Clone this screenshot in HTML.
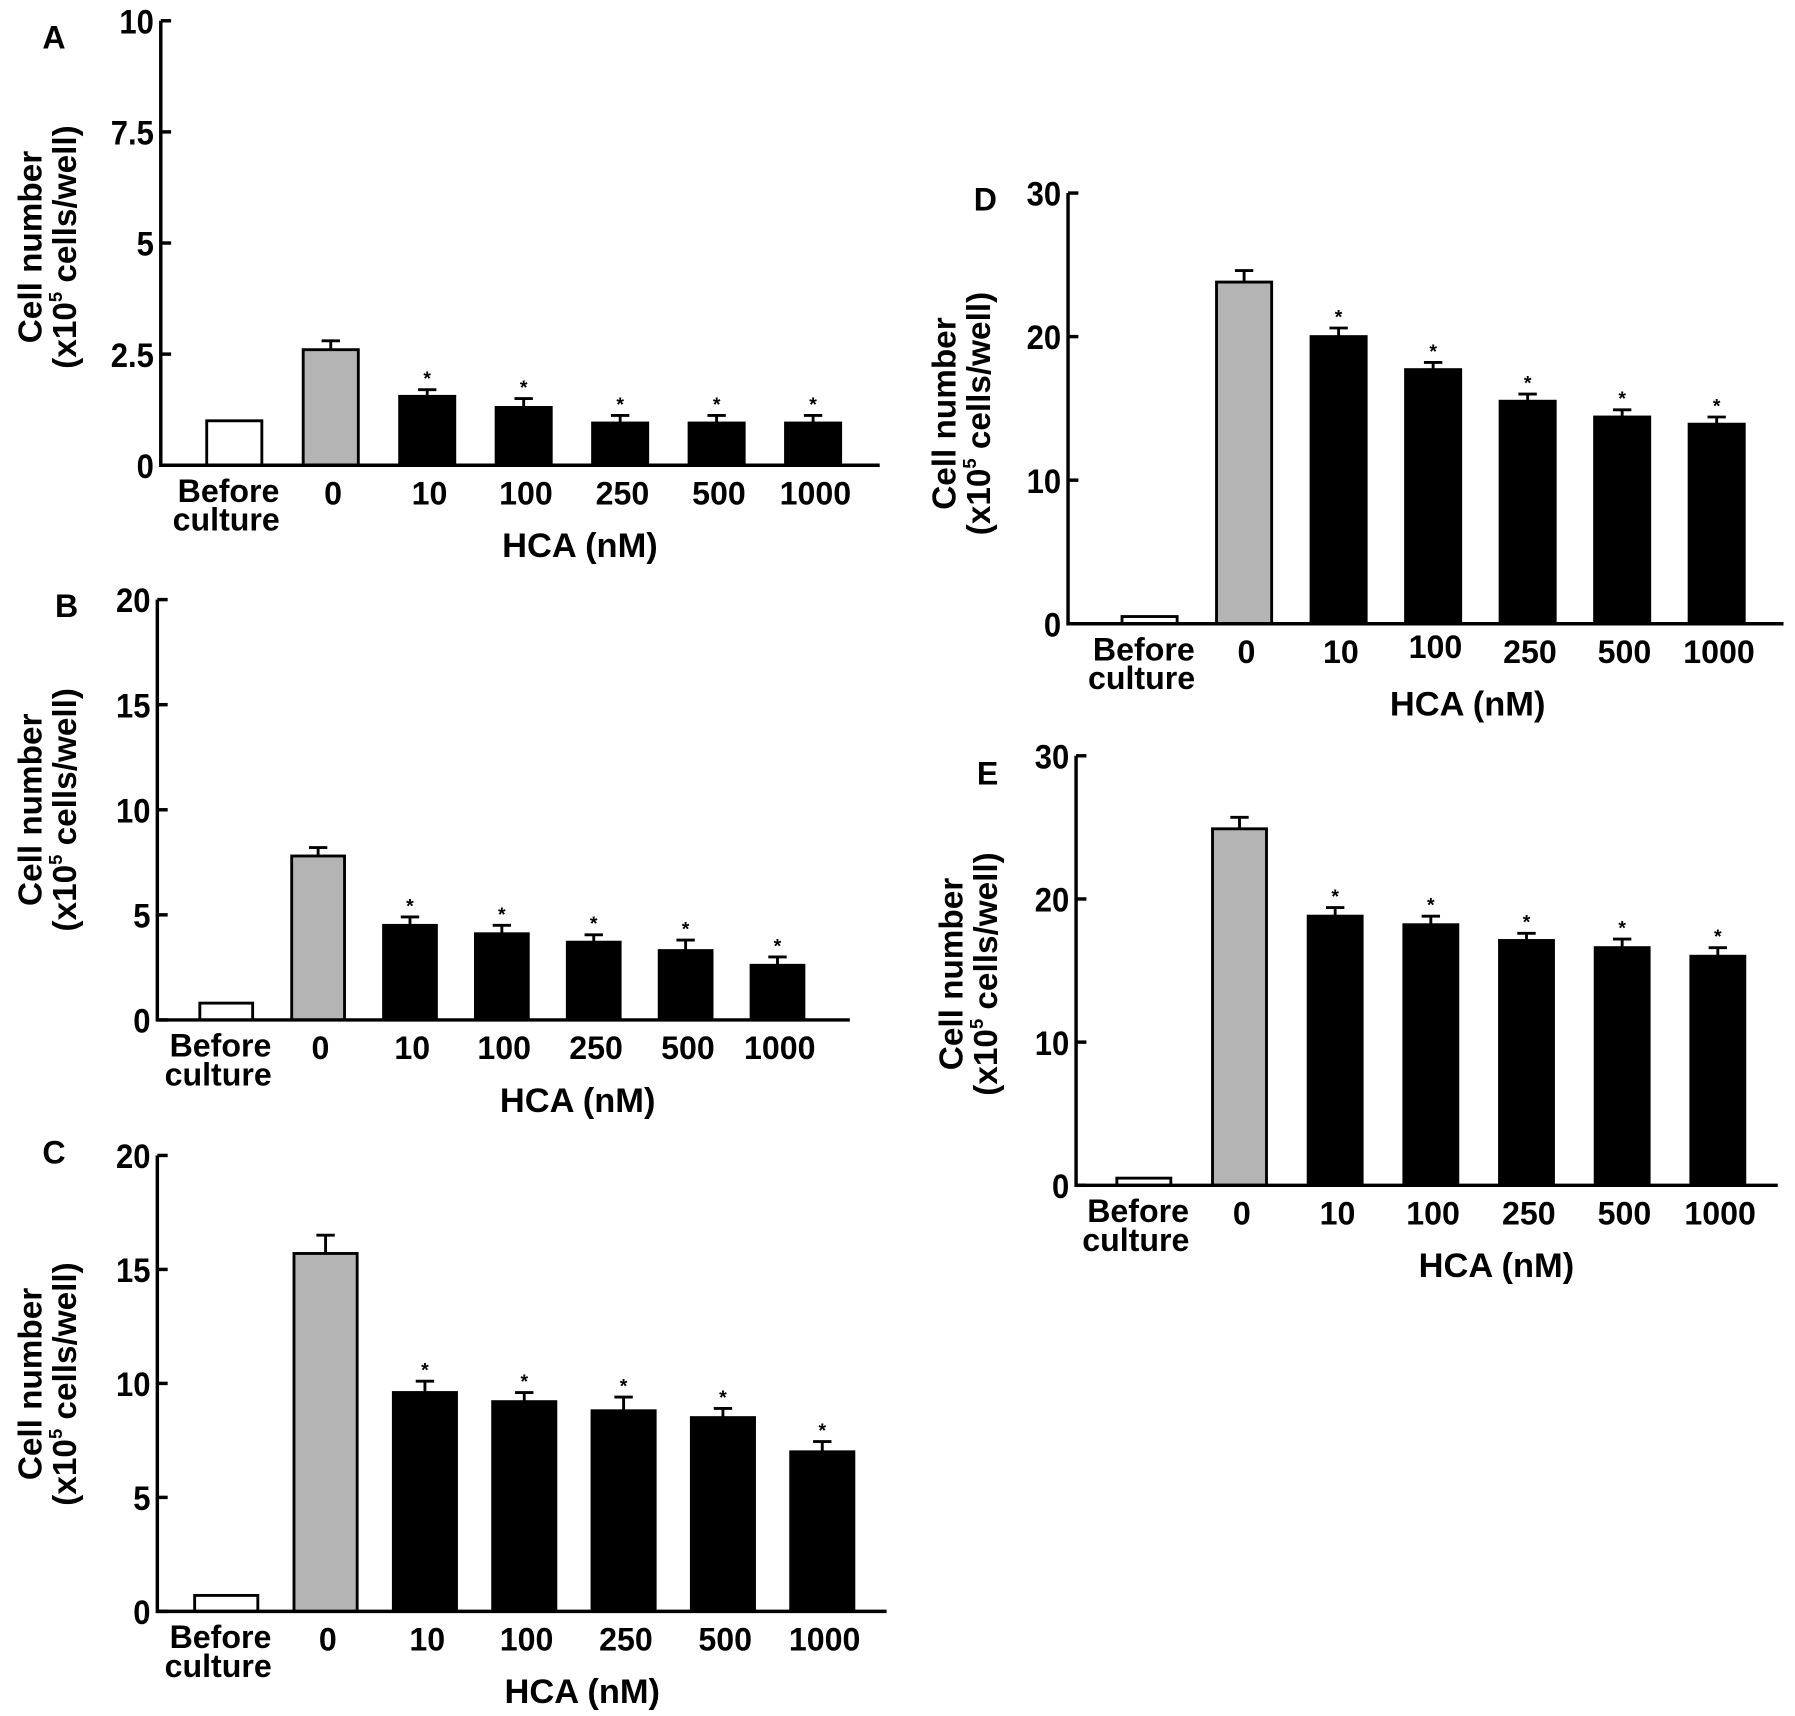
<!DOCTYPE html>
<html><head><meta charset="utf-8"><style>
html,body{margin:0;padding:0;background:#fff;}
svg{display:block;}
text{font-family:"Liberation Sans",Arial,sans-serif;font-weight:bold;fill:#000;}
</style></head><body>
<svg id="fig" width="1795" height="1716" viewBox="0 0 1563 1494" xmlns="http://www.w3.org/2000/svg"></svg>
<script>
const categories = ["Before culture","0","10","100","250","500","1000"];
const valuesA = [1.0, 2.6, 1.55, 1.3, 0.95, 0.95, 0.95];
const errorsA = [0, 0.2, 0.15, 0.2, 0.17, 0.17, 0.17];
const ticksA = [0, 2.5, 5, 7.5, 10];
const valuesB = [0.8, 7.8, 4.5, 4.1, 3.7, 3.3, 2.6];
const errorsB = [0, 0.4, 0.4, 0.4, 0.35, 0.5, 0.4];
const ticksB = [0, 5, 10, 15, 20];
const valuesC = [0.7, 15.7, 9.6, 9.2, 8.8, 8.5, 7.0];
const errorsC = [0, 0.8, 0.5, 0.4, 0.6, 0.4, 0.45];
const ticksC = [0, 5, 10, 15, 20];
const valuesD = [0.5, 23.8, 20.0, 17.7, 15.5, 14.4, 13.9];
const errorsD = [0, 0.8, 0.6, 0.5, 0.5, 0.5, 0.5];
const ticksD = [0, 10, 20, 30];
const valuesE = [0.5, 24.9, 18.8, 18.2, 17.1, 16.6, 16.0];
const errorsE = [0, 0.8, 0.6, 0.6, 0.5, 0.6, 0.6];
const ticksE = [0, 10, 20, 30];
const significant = [false, false, true, true, true, true, true];

const NS = "http://www.w3.org/2000/svg";
const svg = document.getElementById("fig");
function mk(tag, attrs, parent, txt){
  const e = document.createElementNS(NS, tag);
  for (const k in attrs) e.setAttribute(k, attrs[k]);
  if (txt !== undefined) e.textContent = txt;
  parent.appendChild(e);
  return e;
}

function panel(p){
  const g = mk("g", {}, svg);
  
  
  const yMax = p.ticks[p.ticks.length-1];
  const y = v => p.y0 - (v / yMax) * (p.y0 - p.yTop);
  const x = i => p.c0 + i * p.step;

  const lab = mk("text", {x:p.lx, y:p.ly, "font-size":28, "text-anchor":"middle"}, g, p.id);
  
  

  p.values.forEach((v, i) => {
    const fill = i === 0 ? "#fff" : (i === 1 ? "#b4b4b4" : "#000");
    const r = mk("rect", {x:x(i)-p.bw/2, y:y(v), width:p.bw, height:p.y0-y(v), fill:fill, stroke:"#000", "stroke-width":2.5}, g);
    
    
    const e = p.errors[i];
    if (e > 0) {
      const top = y(v + e);
      const eb = mk("path", {d:`M${x(i)} ${y(v)} V${top} M${x(i)-8} ${top} H${x(i)+8}`, stroke:"#000", "stroke-width":2.5, fill:"none"}, g);
      
      
    }
    if (significant[i]) {
      const s = mk("text", {x:x(i), y:y(v+e)-4, "font-size":17, "text-anchor":"middle"}, g, "*");
      
      
    }
  });

  const ax = mk("path", {d:`M${p.ax} ${p.yTop} V${p.y0} H${p.xEnd}`, stroke:"#000", "stroke-width":3, fill:"none"}, g);
  
  
  p.ticks.forEach(t => {
    mk("line", {x1:p.ax, x2:p.ax+9, y1:y(t), y2:y(t), stroke:"#000", "stroke-width":3}, g);
    const tl = mk("text", {transform:`translate(${p.ax-6},${y(t)+11}) scale(1,1.1)`, "font-size":27, "text-anchor":"end"}, g, String(t));
    
    
  });

  categories.forEach((c, i) => {
    if (i === 0) {
      const t1 = mk("text", {x:x(0)-5, y:p.y0+32, "font-size":28, "text-anchor":"middle"}, g, "Before");
      
      
      const t2 = mk("text", {x:x(0)-7, y:p.y0+57, "font-size":28, "text-anchor":"middle"}, g, "culture");
      
      
    } else {
      const t = mk("text", {x:x(i)+2, y:p.y0+(p.id==="D"&&i===3?30:34), "font-size":28, "text-anchor":"middle"}, g, c);
      
      
    }
  });
  const xt = mk("text", {x:p.hx, y:p.y0+80, "font-size":30, "text-anchor":"middle"}, g, "HCA (nM)");
  
  

  const yt = mk("text", {transform:`translate(${p.tx},${p.ty}) rotate(-90)`, "font-size":29, "text-anchor":"middle"}, g);
  
  
  mk("tspan", {x:0, y:0}, yt, "Cell number");
  mk("tspan", {x:0, y:30}, yt, "(x10");
  mk("tspan", {"font-size":16, dy:-12}, yt, "5");
  mk("tspan", {dy:12}, yt, " cells/well)");
}

panel({id:"A", values:valuesA, errors:errorsA, ticks:ticksA, ax:140, yTop:18, y0:405, xEnd:766, c0:204, step:84, bw:48, lx:47, ly:42, hx:505, tx:36, ty:215});
panel({id:"B", values:valuesB, errors:errorsB, ticks:ticksB, ax:137, yTop:522, y0:888, xEnd:740, c0:197, step:80, bw:46, lx:58, ly:537, hx:503, tx:36, ty:705});
panel({id:"C", values:valuesC, errors:errorsC, ticks:ticksC, ax:137, yTop:1006, y0:1403, xEnd:772, c0:197, step:86.5, bw:55, lx:47, ly:1013, hx:507, tx:36, ty:1205});
panel({id:"D", values:valuesD, errors:errorsD, ticks:ticksD, ax:930, yTop:168, y0:543, xEnd:1553, c0:1001, step:82.3, bw:48, lx:858, ly:183, hx:1278, tx:832, ty:360});
panel({id:"E", values:valuesE, errors:errorsE, ticks:ticksE, ax:937, yTop:658, y0:1032, xEnd:1548, c0:996, step:83.3, bw:47, lx:860, ly:683, hx:1303, tx:838, ty:848});
</script>
</body></html>
